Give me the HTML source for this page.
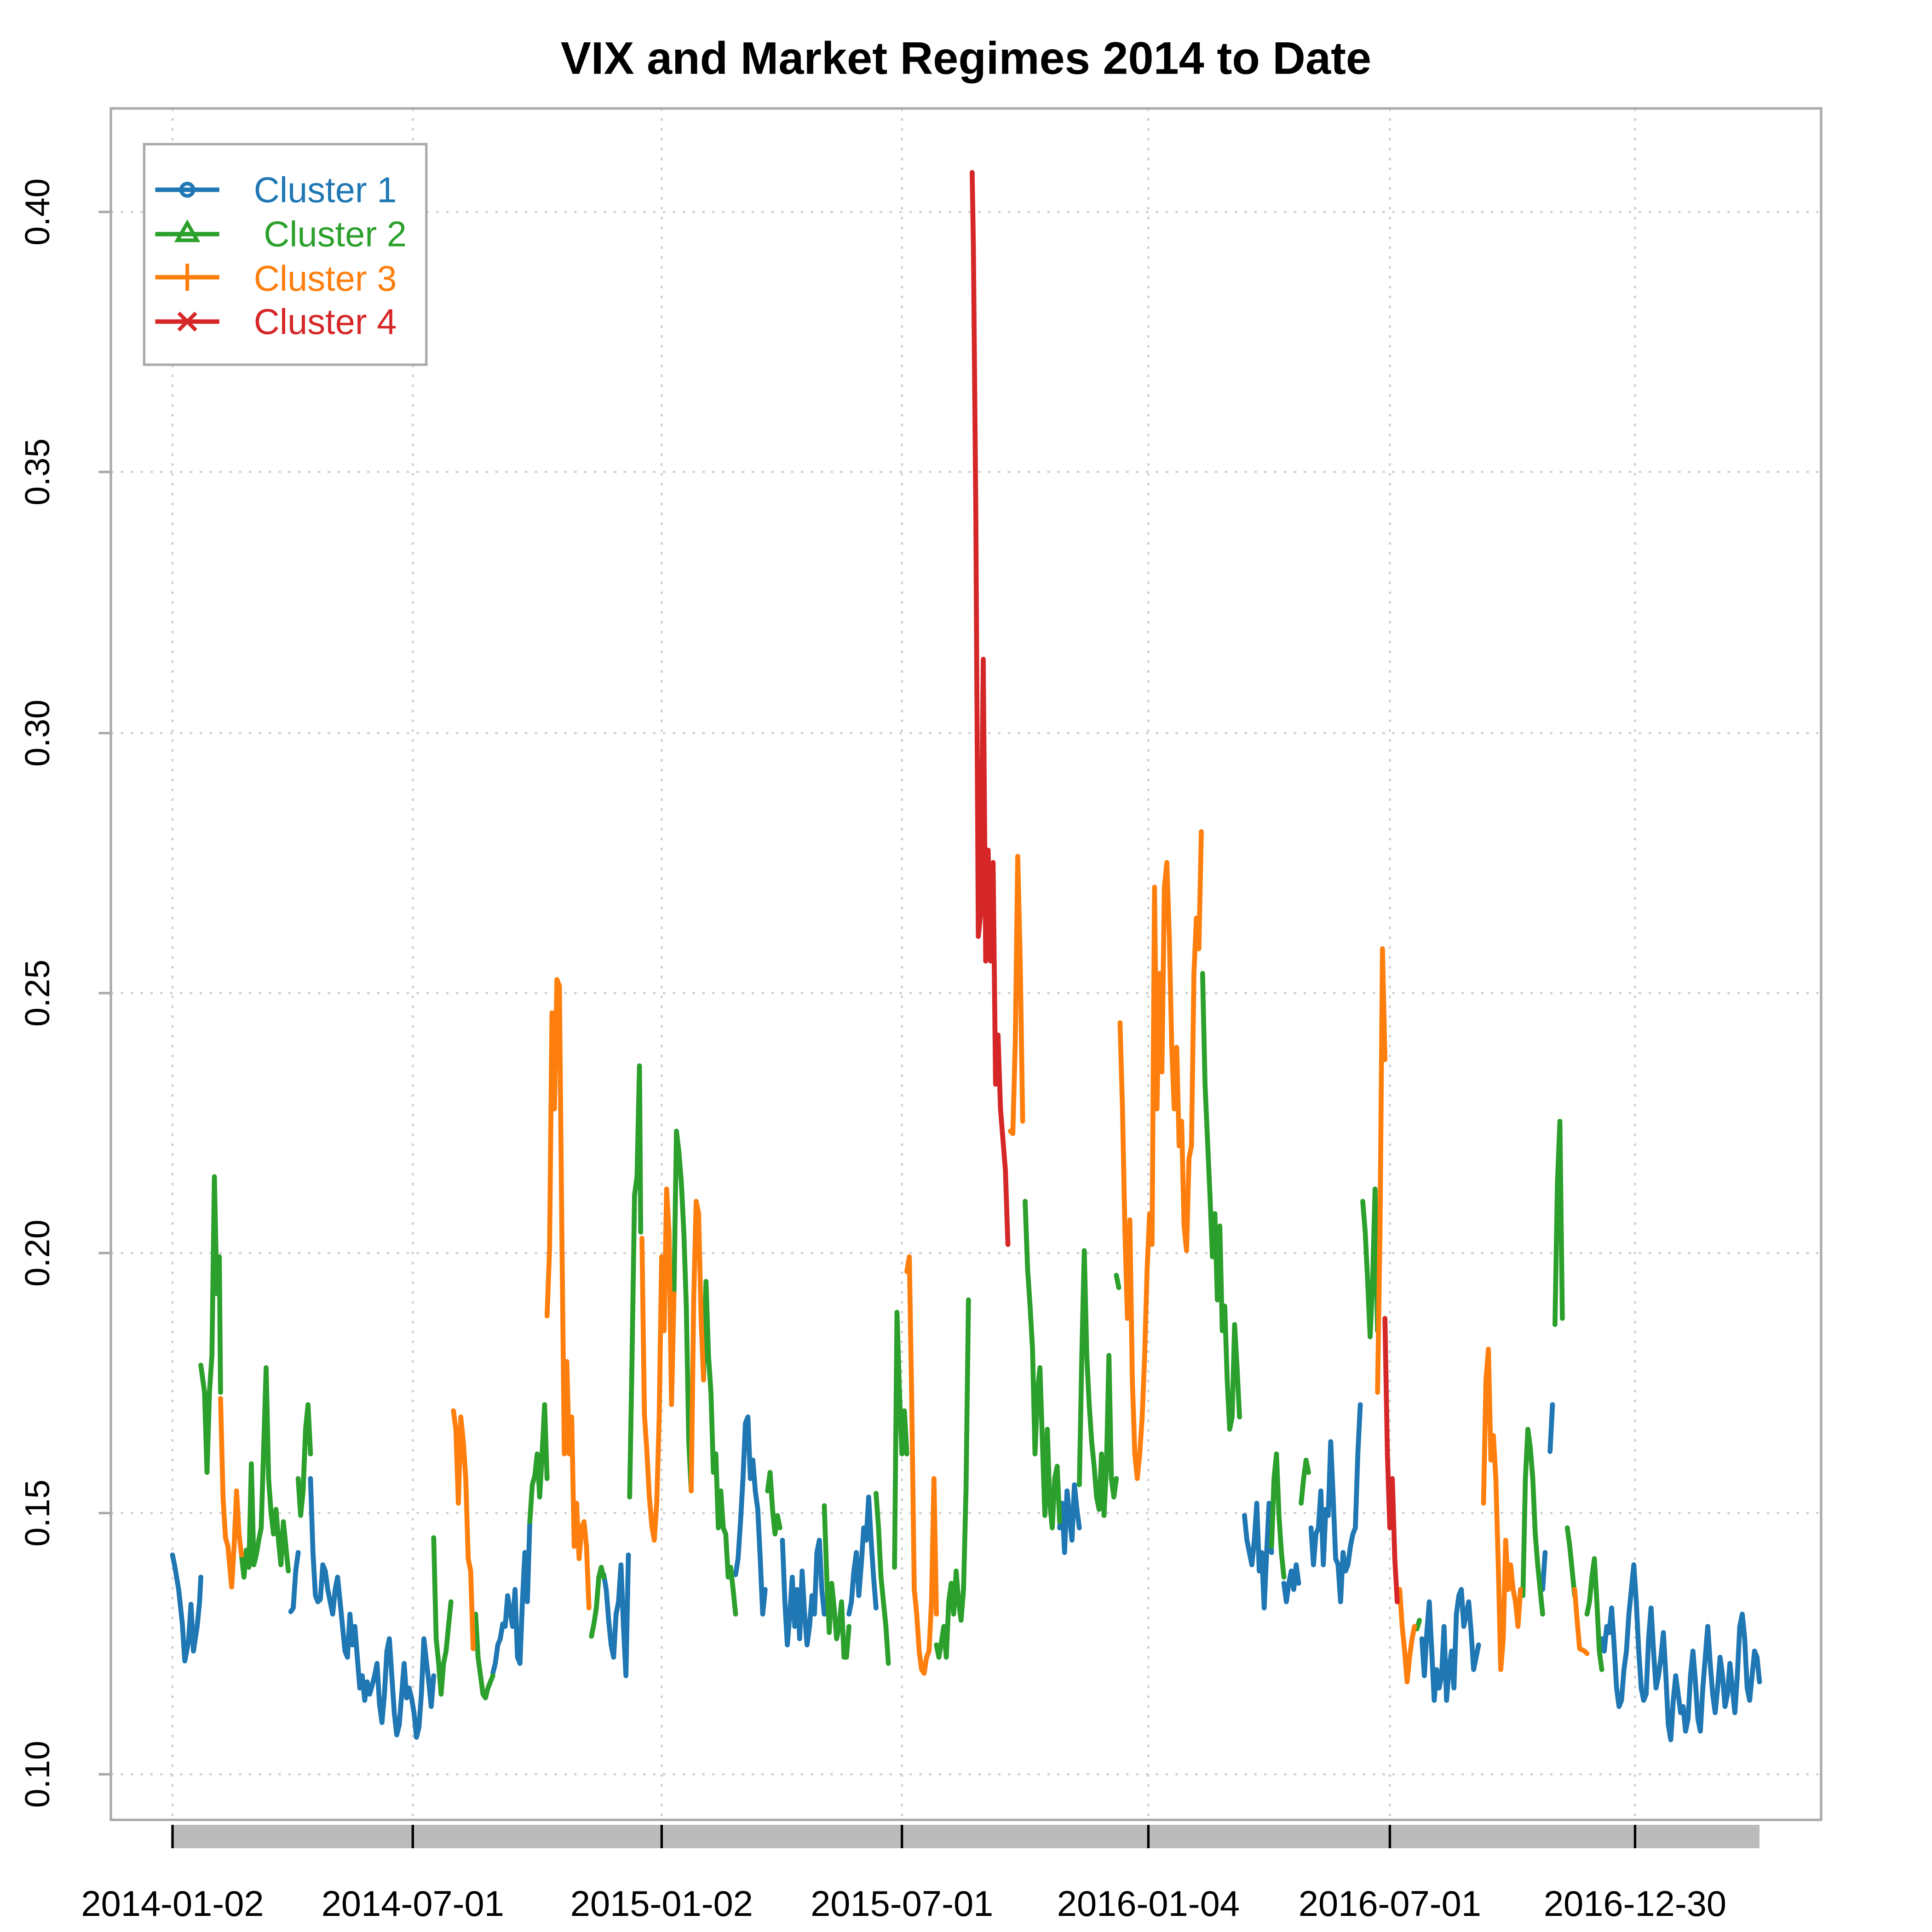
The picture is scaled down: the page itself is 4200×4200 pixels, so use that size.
<!DOCTYPE html>
<html><head><meta charset="utf-8"><style>html,body{margin:0;padding:0;background:#fff}svg{display:block}</style></head><body>
<svg width="4200" height="4200" viewBox="0 0 1568 1568" xmlns="http://www.w3.org/2000/svg" font-family="Liberation Sans, Arial, sans-serif">
<rect width="1568" height="1568" fill="#fff"/>
<text x="784" y="60" text-anchor="middle" font-size="37" font-weight="bold">VIX and Market Regimes 2014 to Date</text>
<g stroke="#cccccc" stroke-width="1.6" stroke-dasharray="2,6">
<line x1="90" x2="1478" y1="172" y2="172"/><line x1="90" x2="1478" y1="383" y2="383"/><line x1="90" x2="1478" y1="595" y2="595"/><line x1="90" x2="1478" y1="806" y2="806"/><line x1="90" x2="1478" y1="1017" y2="1017"/><line x1="90" x2="1478" y1="1228" y2="1228"/><line x1="90" x2="1478" y1="1440" y2="1440"/>
<line y1="88" y2="1477" x1="140" x2="140"/><line y1="88" y2="1477" x1="335" x2="335"/><line y1="88" y2="1477" x1="537" x2="537"/><line y1="88" y2="1477" x1="732" x2="732"/><line y1="88" y2="1477" x1="932" x2="932"/><line y1="88" y2="1477" x1="1128" x2="1128"/><line y1="88" y2="1477" x1="1327" x2="1327"/>
</g>
<rect x="90" y="88" width="1388" height="1389" fill="none" stroke="#aaaaaa" stroke-width="2"/>
<g stroke="#aaaaaa" stroke-width="2"><line x1="80" x2="90" y1="172" y2="172"/><line x1="80" x2="90" y1="383" y2="383"/><line x1="80" x2="90" y1="595" y2="595"/><line x1="80" x2="90" y1="806" y2="806"/><line x1="80" x2="90" y1="1017" y2="1017"/><line x1="80" x2="90" y1="1228" y2="1228"/><line x1="80" x2="90" y1="1440" y2="1440"/></g>
<g font-size="28" text-anchor="middle">
<text transform="translate(40,172) rotate(-90)">0.40</text><text transform="translate(40,383) rotate(-90)">0.35</text><text transform="translate(40,595) rotate(-90)">0.30</text><text transform="translate(40,806) rotate(-90)">0.25</text><text transform="translate(40,1017) rotate(-90)">0.20</text><text transform="translate(40,1228) rotate(-90)">0.15</text><text transform="translate(40,1440) rotate(-90)">0.10</text>
</g>
<rect x="140" y="1481" width="1288" height="19" fill="#bbbbbb"/>
<g stroke="#000" stroke-width="2"><line x1="140" x2="140" y1="1481" y2="1500"/><line x1="335" x2="335" y1="1481" y2="1500"/><line x1="537" x2="537" y1="1481" y2="1500"/><line x1="732" x2="732" y1="1481" y2="1500"/><line x1="932" x2="932" y1="1481" y2="1500"/><line x1="1128" x2="1128" y1="1481" y2="1500"/><line x1="1327" x2="1327" y1="1481" y2="1500"/></g>
<g font-size="29" text-anchor="middle">
<text x="140" y="1555">2014-01-02</text><text x="335" y="1555">2014-07-01</text><text x="537" y="1555">2015-01-02</text><text x="732" y="1555">2015-07-01</text><text x="932" y="1555">2016-01-04</text><text x="1128" y="1555">2016-07-01</text><text x="1327" y="1555">2016-12-30</text>
</g>
<g fill="none" stroke-width="4" stroke-linejoin="round" stroke-linecap="round">
<g stroke="#1f77b4">
<polyline points="140,1262 142,1272 145,1290 148,1318 150,1348 153,1332 155,1302 157,1340 160,1320 162,1300 163,1280"/>
<polyline points="236,1308 238,1305 240,1275 242,1260"/>
<polyline points="252,1200 254,1260 256,1295 258,1300 260,1298 262,1270 264,1275 266,1290 268,1300 270,1310 272,1290 274,1280 276,1300 278,1320 280,1340 282,1345 284,1310 286,1335 288,1320 290,1345 292,1370 294,1360 296,1380 298,1365 300,1375 302,1368 304,1360 306,1350 308,1383 310,1398 312,1375 314,1340 316,1330 318,1360 320,1390 322,1408 324,1400 326,1375 328,1350 330,1378 332,1370 334,1378 336,1390 338,1410 340,1402 342,1375 344,1330 346,1348 348,1365 350,1385 352,1360"/>
<polyline points="400,1358 402,1350 404,1335 406,1330 408,1318 410,1320 412,1295 414,1308 416,1320 418,1290 420,1345 422,1350 424,1300 426,1260 428,1300 430,1235"/>
<polyline points="490,1278 492,1290 494,1315 496,1335 498,1345 500,1310 502,1300 504,1270 506,1320 508,1360 510,1262"/>
<polyline points="597,1278 599,1265 601,1235 603,1200 605,1155 607,1150 609,1200 611,1185 613,1210 615,1225 617,1265 619,1310 621,1290"/>
<polyline points="635,1250 637,1300 639,1335 641,1310 643,1280 645,1320 647,1290 649,1330 651,1275 653,1310 655,1335 657,1320 659,1295 661,1310 663,1260 665,1250 667,1290 669,1310"/>
<polyline points="689,1310 691,1300 693,1275 695,1260 697,1295 699,1270 701,1240 703,1250 705,1215 707,1250 709,1280 711,1305"/>
<polyline points="860,1240 862,1220 864,1260 866,1210 868,1230 870,1250 872,1205 874,1225 876,1240"/>
<polyline points="1010,1230 1012,1250 1014,1260 1016,1270 1018,1250 1020,1220 1022,1275 1024,1260 1026,1305 1028,1260 1030,1220 1032,1260"/>
<polyline points="1042,1285 1044,1300 1046,1285 1048,1275 1050,1290 1052,1270 1054,1285"/>
<polyline points="1064,1240 1066,1270 1068,1245 1070,1240 1072,1210 1074,1270 1076,1225 1078,1230 1080,1170 1082,1215 1084,1265 1086,1270 1088,1300 1090,1260 1092,1275 1094,1270 1096,1255 1098,1245 1100,1240 1102,1180 1104,1140"/>
<polyline points="1154,1330 1156,1360 1158,1325 1160,1300 1162,1340 1164,1380 1166,1355 1168,1370 1170,1360 1172,1320 1174,1380 1176,1355 1178,1340 1180,1370 1182,1310 1184,1295 1186,1290 1188,1320 1190,1310 1192,1300 1194,1325 1196,1355 1198,1345 1200,1335"/>
<polyline points="1252,1290 1254,1260"/>
<polyline points="1258,1178 1260,1140"/>
<polyline points="1300,1330 1302,1340 1304,1320 1306,1325 1308,1305 1310,1335 1312,1370 1314,1385 1316,1380 1318,1355 1320,1340 1322,1310 1324,1290 1326,1270 1328,1300 1330,1340 1332,1370 1334,1380 1336,1375 1338,1330 1340,1305 1342,1340 1344,1370 1346,1360 1348,1345 1350,1325 1352,1360 1354,1400 1356,1412 1358,1380 1360,1360 1362,1375 1364,1390 1366,1385 1368,1405 1370,1395 1372,1360 1374,1340 1376,1365 1378,1395 1380,1405 1382,1370 1384,1345 1386,1320 1388,1350 1390,1375 1392,1390 1394,1370 1396,1345 1398,1360 1400,1385 1402,1375 1404,1350 1406,1370 1408,1390 1410,1360 1412,1320 1414,1310 1416,1330 1418,1370 1420,1380 1422,1360 1424,1340 1426,1345 1428,1365"/>
</g>
<g stroke="#2ca02c">
<polyline points="163,1108 166,1130 168,1195 170,1130 172,1100 174,955 176,1050 178,1020 179,1130"/>
<polyline points="196,1262 198,1280 200,1258 202,1272 204,1188 206,1270 208,1262 210,1250 212,1240 214,1175 216,1110 218,1200 220,1228 222,1245 224,1225 226,1250 228,1270 230,1235 232,1255 234,1275"/>
<polyline points="242,1200 244,1230 246,1210 248,1160 250,1140 252,1180"/>
<polyline points="352,1248 354,1330 356,1350 358,1375 360,1350 362,1340 364,1320 366,1300"/>
<polyline points="384,1338 386,1310 388,1345 390,1360 392,1375 394,1378 396,1370 398,1365 400,1360"/>
<polyline points="430,1235 432,1205 434,1198 436,1180 438,1215 440,1180 442,1140 444,1200"/>
<polyline points="480,1328 482,1318 484,1305 486,1280 488,1272 490,1280"/>
<polyline points="511,1215 513,1100 515,970 517,955 519,865 520,1000"/>
<polyline points="547,1050 549,918 551,935 553,960 555,1000 557,1060 559,1170 561,1210"/>
<polyline points="571,1120 573,1040 575,1100 577,1130 579,1195 581,1180 583,1240 585,1210 587,1240 589,1245 591,1280 593,1272 595,1290 597,1310"/>
<polyline points="623,1210 625,1195 627,1225 629,1245 631,1230 633,1240"/>
<polyline points="669,1222 671,1280 673,1325 675,1285 677,1305 679,1330 681,1320 683,1300 685,1345 687,1345 689,1320"/>
<polyline points="711,1212 713,1240 715,1280 717,1300 719,1320 721,1350"/>
<polyline points="726,1272 728,1065 730,1130 732,1180 734,1145 736,1180"/>
<polyline points="760,1335 762,1345 764,1333 766,1320 768,1345 770,1300 772,1285 774,1310 776,1275 778,1300 780,1315 782,1290 784,1210 786,1055"/>
<polyline points="832,975 834,1030 836,1060 838,1095 840,1180 842,1130 844,1110 846,1170 848,1230 850,1160 852,1220 854,1240 856,1200 858,1190 860,1235"/>
<polyline points="876,1205 878,1100 880,1015 882,1100 884,1140 886,1170 888,1190 890,1215 892,1225 894,1180 896,1230 898,1190 900,1100 902,1200 904,1215 906,1200"/>
<polyline points="906,1035 908,1045"/>
<polyline points="976,790 978,880 980,925 982,970 984,1020 986,985 988,1055 990,995 992,1080 994,1060 996,1120 998,1160 1000,1150 1002,1075 1004,1110 1006,1150"/>
<polyline points="1032,1255 1034,1200 1036,1180 1038,1230 1040,1260 1042,1280"/>
<polyline points="1056,1220 1058,1200 1060,1185 1062,1195"/>
<polyline points="1106,975 1108,1000 1110,1040 1112,1085 1114,1040 1116,965 1118,1080"/>
<polyline points="1150,1322 1152,1315"/>
<polyline points="1236,1295 1238,1200 1240,1160 1242,1175 1244,1200 1246,1245 1248,1270 1250,1290 1252,1310"/>
<polyline points="1262,1075 1264,960 1266,910 1268,1070"/>
<polyline points="1272,1240 1274,1255 1276,1275 1278,1295"/>
<polyline points="1288,1310 1290,1300 1292,1280 1294,1265 1296,1300 1298,1340 1300,1355"/>
</g>
<g stroke="#ff7f0e">
<polyline points="179,1135 181,1215 183,1248 185,1255 188,1288 190,1255 192,1210 194,1245 196,1262"/>
<polyline points="368,1145 370,1160 372,1220 374,1150 376,1170 378,1200 380,1265 382,1275 384,1338"/>
<polyline points="444,1068 446,1015 448,822 450,900 452,795 454,800 456,1000 458,1180 460,1105 462,1180 464,1150 466,1255 468,1220 470,1265 472,1240 474,1235 476,1255 478,1305"/>
<polyline points="521,1005 523,1148 525,1178 527,1215 529,1238 531,1250 533,1220 535,1150 537,1020 539,1080 541,965 543,1000 545,1140 547,1050"/>
<polyline points="561,1210 563,1055 565,975 567,985 569,1070 571,1120"/>
<polyline points="736,1032 738,1020 740,1140 742,1290 744,1310 746,1340 748,1355 750,1358 752,1345 754,1340 756,1300 758,1200 760,1310"/>
<polyline points="820,918 822,920 824,845 826,695 828,780 830,910"/>
<polyline points="909,830 911,900 913,1000 915,1070 917,990 919,1120 921,1180 923,1200 925,1180 927,1150 929,1100 931,1030 933,985 935,1010 937,720 939,900 941,790 943,870 945,720 947,700 949,760 951,850 953,900 955,850 957,930 959,910 961,995 963,1015 965,940 967,930 969,790 971,745 973,770 975,675"/>
<polyline points="1118,1130 1120,1000 1122,770 1124,860"/>
<polyline points="1134,1300 1136,1290 1138,1320 1140,1340 1142,1365 1144,1345 1146,1330 1148,1320"/>
<polyline points="1204,1220 1206,1120 1208,1095 1210,1185 1212,1165 1214,1200 1216,1270 1218,1355 1220,1330 1222,1250 1224,1290 1226,1270 1228,1290 1230,1300 1232,1320 1234,1290"/>
<polyline points="1278,1290 1280,1315 1282,1338 1286,1340 1288,1342"/>
</g>
<g stroke="#d62728">
<polyline points="789,140 790,200 792,420 794,760 796,740 798,535 800,780 802,690 804,780 806,700 808,880 810,840 812,900 814,925 816,950 818,1010"/>
<polyline points="1124,1070 1126,1180 1128,1240 1130,1200 1132,1265 1134,1300"/>
</g>
</g>
<rect x="117" y="117" width="229" height="179" fill="#fff" stroke="#aaaaaa" stroke-width="2"/>
<g stroke-width="3.6" fill="none">
<line x1="126" x2="178" y1="154" y2="154" stroke="#1f77b4"/><circle cx="152" cy="154" r="5" stroke="#1f77b4" stroke-width="3"/>
<line x1="126" x2="178" y1="190" y2="190" stroke="#2ca02c"/><polygon points="152,181 160,195 144,195" stroke="#2ca02c" stroke-width="3"/>
<line x1="126" x2="178" y1="225" y2="225" stroke="#ff7f0e"/><line x1="152" x2="152" y1="214" y2="236" stroke="#ff7f0e" stroke-width="3"/>
<line x1="126" x2="178" y1="261" y2="261" stroke="#d62728"/><path d="M145,254 L159,268 M159,254 L145,268" stroke="#d62728" stroke-width="3"/>
</g>
<g font-size="29">
<text x="206" y="164" fill="#1f77b4">Cluster 1</text>
<text x="214" y="200" fill="#2ca02c">Cluster 2</text>
<text x="206" y="236" fill="#ff7f0e">Cluster 3</text>
<text x="206" y="271" fill="#d62728">Cluster 4</text>
</g>
</svg>
</body></html>
